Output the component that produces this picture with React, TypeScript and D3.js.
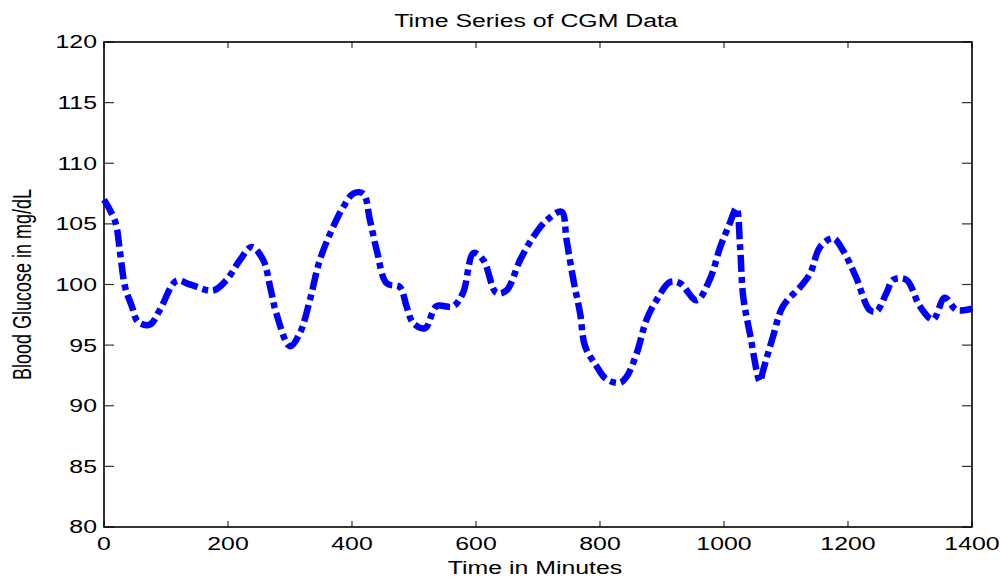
import React from "react";
import * as d3 from "d3";

const minutes = [0, 18, 26, 34, 45, 55, 74, 90, 117, 139, 176, 198, 219, 238, 257, 268, 278, 300, 316, 332, 348, 370, 386, 402, 418, 429, 440, 456, 477, 488, 499, 518, 536, 563, 579, 596, 612, 633, 649, 671, 692, 714, 738, 746, 757, 768, 776, 794, 810, 832, 843, 859, 875, 891, 913, 929, 956, 977, 994, 1009, 1020, 1026, 1031, 1042, 1058, 1063, 1079, 1095, 1123, 1139, 1155, 1176, 1192, 1213, 1235, 1246, 1262, 1273, 1294, 1316, 1337, 1356, 1375, 1400];
const glucose = [107.0, 105.2, 102.6, 99.8, 98.2, 96.9, 96.7, 97.9, 100.3, 100.0, 99.5, 100.4, 102.0, 103.1, 102.0, 99.8, 97.6, 94.9, 96.0, 98.7, 102.0, 104.8, 106.4, 107.5, 107.5, 105.3, 102.8, 100.1, 99.8, 98.2, 96.8, 96.4, 98.2, 98.2, 99.3, 102.6, 102.0, 99.3, 99.5, 102.0, 103.9, 105.3, 106.0, 103.7, 100.4, 97.6, 94.9, 93.3, 92.2, 91.9, 92.4, 94.3, 97.1, 98.7, 100.2, 100.1, 98.7, 100.4, 103.1, 105.0, 106.3, 103.1, 99.0, 95.9, 92.0, 92.9, 95.7, 98.2, 99.8, 100.9, 103.1, 103.8, 102.8, 100.6, 97.9, 97.8, 99.3, 100.4, 100.4, 98.2, 97.1, 98.9, 97.9, 98.0];
const xTicks = [0, 200, 400, 600, 800, 1000, 1200, 1400];
const yTicks = [80, 85, 90, 95, 100, 105, 110, 115, 120];

const title = "Time Series of CGM Data";
const xLabel = "Time in Minutes";
const yLabel = "Blood Glucose in mg/dL";

const W = 1000;
const H = 577;
const L = 104, R = 972, T = 42, B = 527;
const SX = 1.38;
const FONT = "'Liberation Sans', Arial, Helvetica, sans-serif";

export default function App() {
  const x = d3.scaleLinear().domain([0, 1400]).range([L, R]);
  const y = d3.scaleLinear().domain([80, 120]).range([B, T]);
  const pts = minutes.map((m, i) => [m, glucose[i]] as [number, number]);
  const line = d3
    .line<[number, number]>()
    .x((d) => x(d[0]))
    .y((d) => y(d[1]))
    .curve(d3.curveCatmullRom.alpha(0.5));

  return (
    <svg
      width={W}
      height={H}
      style={{ position: "absolute", left: 0, top: 0, background: "#fff" }}
      fontFamily={FONT}
    >
      <rect x={0} y={0} width={W} height={H} fill="#fff" />
      {yTicks.map((t) => (
        <g key={"y" + t}>
          <line x1={L} x2={L + 10} y1={y(t)} y2={y(t)} stroke="#333" strokeWidth={1.2} />
          <line x1={R} x2={R - 10} y1={y(t)} y2={y(t)} stroke="#333" strokeWidth={1.2} />
          <text
            transform={`translate(${L - 7},${y(t)}) scale(${SX},1)`}
            textAnchor="end"
            dy="0.36em"
            fontSize={18}
            fill="#000"
          >
            {t}
          </text>
        </g>
      ))}
      {xTicks.map((t) => (
        <g key={"x" + t}>
          <line x1={x(t)} x2={x(t)} y1={B} y2={B - 6} stroke="#333" strokeWidth={1.2} />
          <line x1={x(t)} x2={x(t)} y1={T} y2={T + 6} stroke="#333" strokeWidth={1.2} />
          <text
            transform={`translate(${x(t)},550) scale(${SX},1)`}
            textAnchor="middle"
            fontSize={18}
            fill="#000"
          >
            {t}
          </text>
        </g>
      ))}
      <rect x={L} y={T} width={R - L} height={B - T} fill="none" stroke="#000" strokeWidth={1.6} />
      <path
        d={line(pts) || ""}
        fill="none"
        stroke="#0000ff"
        strokeWidth={6.5}
        strokeDasharray="17,5,6,5"
        strokeLinecap="butt"
        strokeLinejoin="round"
      />
      <text
        transform={`translate(${(L + R) / 2 - 2},27) scale(${SX},1)`}
        textAnchor="middle"
        fontSize={18}
        fill="#000"
      >
        {title}
      </text>
      <text
        transform={`translate(${(L + R) / 2 - 3},574) scale(${SX},1)`}
        textAnchor="middle"
        fontSize={18}
        fill="#000"
      >
        {xLabel}
      </text>
      <text
        transform={`translate(31,${(T + B) / 2}) scale(${SX},1) rotate(-90)`}
        textAnchor="middle"
        fontSize={18}
        fill="#000"
      >
        {yLabel}
      </text>
    </svg>
  );
}
